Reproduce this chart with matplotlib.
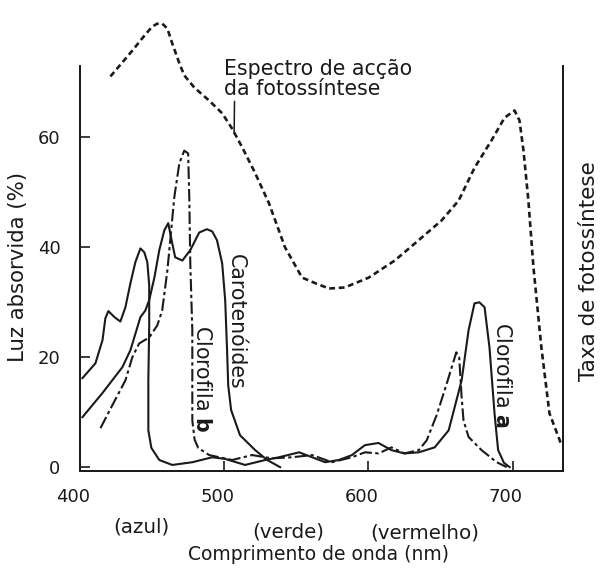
import matplotlib
matplotlib.use("Agg")
import matplotlib.pyplot as plt
from matplotlib.transforms import ScaledTranslation

# --- values (nm, % absorbed) ---
act_nm = [421.1, 436.3, 444.6, 450.2, 453.6, 457.1, 460.6, 464, 468.9, 472.3, 479.2, 489.6,
          498.6, 505.5, 512.5, 521.5, 531.1, 542.2, 554, 563, 572.7, 583.7, 600.3, 618.3,
          634.9, 650.8, 662.6, 673.7, 685.5, 694.5, 701.4, 704.8, 707.6, 711, 714.5, 720,
          725.6, 734]
act_y = [71.1, 75.8, 78.5, 80.2, 80.7, 80.7, 79.8, 77.1, 73.5, 71.3, 69.1, 66.7,
         64.4, 61.6, 58.2, 53.5, 48, 40, 34.5, 33.5, 32.5, 32.7, 34.5, 37.6,
         41.3, 44.9, 48.5, 54.5, 59.5, 63.6, 64.9, 63.1, 57.6, 48.5, 36.4, 21.8,
         9.8, 4]

chla_nm = [401.7, 410.7, 415.6, 417.6, 419.7, 423.9, 428, 431.5, 435, 438.4, 441.9, 444.6,
           446.7, 448, 448, 447.4, 447.4, 449.5, 455, 464, 478, 491.7, 500.7, 514.5,
           528.4, 538, 552, 561, 570, 579.6, 588.6, 597.6, 607, 616, 625, 635,
           646, 655.7, 664.7, 669.5, 673.6, 677, 680.6, 684, 687.5, 690, 694, 698]
chla_y = [16.2, 18.9, 23.1, 27.1, 28.4, 27.3, 26.5, 29.1, 33.5, 37.3, 39.8, 39.1,
          37.3, 33.1, 25.8, 15.8, 6.7, 3.5, 1.3, 0.4, 0.9, 1.8, 1.5, 0.4,
          1.3, 1.8, 2.7, 1.8, 0.9, 1.3, 2.2, 4.0, 4.4, 3.1, 2.5, 2.7,
          3.6, 6.7, 15.8, 24.9, 29.8, 30, 29.1, 21.8, 9.8, 3.1, 0.8, 0]

chlb_nm = [414.2, 422.5, 431.5, 436.3, 441, 448, 453.6, 457, 460.6, 465.4, 468.9, 472.3,
           475, 475.8, 476.5, 477.9, 477.9, 479.5, 482, 489.6, 505.5, 519.4, 533, 547,
           561, 574.7, 588.6, 597.6, 607, 616, 625, 635, 640.5, 647.4, 654, 661,
           663, 664.7, 666, 669.5, 678.5, 689, 696]
chlb_y = [7.1, 11.3, 15.8, 20, 22.5, 23.6, 25.8, 28.5, 35.8, 49.1, 55.3, 57.6,
          57.1, 49.1, 37.1, 24.9, 8.5, 5.0, 3.5, 2.2, 1.3, 2.2, 1.6, 1.8,
          2.2, 0.9, 1.8, 2.7, 2.5, 3.6, 2.5, 3.1, 4.9, 9.5, 14.9, 20.9,
          20, 12.7, 8.5, 5.5, 3.1, 0.9, 0]

car_nm = [401.7, 415.6, 429.4, 435, 441.9, 445.3, 448, 451.6, 455, 458.5, 461.2, 464,
          466, 471, 476.5, 482.7, 488, 491.7, 495, 498.6, 500.7, 502, 502.8, 504.8,
          511, 521.5, 529.8, 538.8]
car_y = [9.1, 13.5, 18.2, 21.3, 27.3, 28.5, 30.4, 34.5, 39.5, 43.1, 44.4, 40.7,
         38.2, 37.6, 39.5, 42.7, 43.3, 42.9, 41.3, 37.1, 30.4, 21.3, 14.9, 10.4,
         5.8, 3.1, 1.3, 0]

xticks = [400, 500, 600, 700]
yticks = [0, 20, 40, 60]

ink = "#1a1a1a"
plt.rcParams["font.family"] = ["DejaVu Sans"]
fs_tick = 13
fs_curve = 14.8
fs_band = 14.3

fig = plt.figure(figsize=(6, 5.68), dpi=100)
W, H = 600, 568
ax = fig.add_axes([80 / W, (H - 471) / H, (563 - 80) / W, (471 - 66) / H])
ax.set_xlim(402, 735)
ax.set_ylim(-0.7, 73)

ax.plot(chla_nm, chla_y, color=ink, lw=1.5, solid_joinstyle="round")
ax.plot(car_nm, car_y, color=ink, lw=1.5, solid_joinstyle="round")
ax.plot(chlb_nm, chlb_y, color=ink, lw=1.5, linestyle=(0, (6, 1.6, 1.6, 1.6)))

# action spectrum on the right-hand (rate) scale
ax2 = ax.twinx()
ax2.set_ylim(ax.get_ylim())
ax2.plot(act_nm, act_y, color=ink, lw=1.9, linestyle=(0, (2.2, 1.4)), clip_on=False)
ax2.set_yticks([])

for a in (ax, ax2):
    a.spines["top"].set_visible(False)
    for s in ("left", "right", "bottom"):
        a.spines[s].set_linewidth(1.3)
        a.spines[s].set_color(ink)

ax.set_xticks(xticks)
ax.set_yticks(yticks)
ax.tick_params(direction="in", length=7, width=1.2, colors=ink, labelsize=fs_tick)
ax.tick_params(axis="y", pad=14)
ax.tick_params(axis="x", pad=12)
for lab in ax.get_xticklabels():
    lab.set_transform(lab.get_transform() + ScaledTranslation(-7 / 100, 0, fig.dpi_scale_trans))

# curve labels
ax.text(508.3, 26.4, "Carotenóides", rotation=-90, ha="center", va="center", fontsize=fs_curve, color=ink)
ax.text(484.8, 16.2, r"Clorofila $\mathbf{b}$", rotation=-90, ha="center", va="center", fontsize=fs_curve, color=ink)
ax.text(692.4, 16.9, r"Clorofila $\mathbf{a}$", rotation=-90, ha="center", va="center", fontsize=fs_curve, color=ink)
ax.annotate("Espectro de acção\nda fotossíntese", xy=(506.9, 60.7), xytext=(500, 74.2),
            ha="left", va="top", fontsize=fs_curve, color=ink, linespacing=0.95,
            annotation_clip=False,
            arrowprops=dict(arrowstyle="-", color=ink, lw=1.1, shrinkA=0, shrinkB=0,
                            relpos=(0.055, 0.0)))

# outside labels
fig.text(141 / W, 1 - 527 / H, "(azul)", ha="center", va="center", fontsize=fs_band, color=ink)
fig.text(288 / W, 1 - 532 / H, "(verde)", ha="center", va="center", fontsize=fs_band, color=ink)
fig.text(425 / W, 1 - 533 / H, "(vermelho)", ha="center", va="center", fontsize=fs_band, color=ink)
fig.text(319 / W, 1 - 555 / H, "Comprimento de onda (nm)", ha="center", va="center", fontsize=13.5, color=ink)
fig.text(18 / W, 1 - 267 / H, "Luz absorvida (%)", rotation=90, ha="center", va="center", fontsize=15.3, color=ink)
fig.text(589 / W, 1 - 271 / H, "Taxa de fotossíntese", rotation=90, ha="center", va="center", fontsize=15.5, color=ink)

fig.savefig("out.png", dpi=100, facecolor="white")
